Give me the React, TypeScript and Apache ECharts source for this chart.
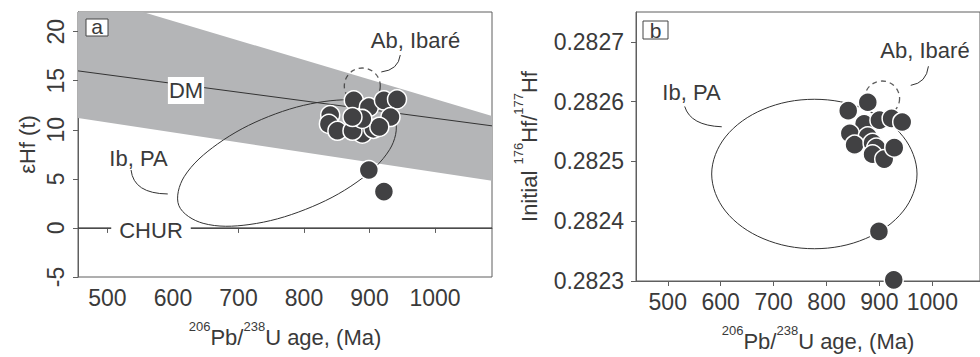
import React, { useEffect, useRef } from "react";
import * as echarts from "echarts";

// ---- tick values ----
const AGE_TICKS = [500, 600, 700, 800, 900, 1000];
const EHF_TICKS = [-5, 0, 5, 10, 15, 20];
const HF_TICKS = [0.2823, 0.2824, 0.2825, 0.2826, 0.2827];

// ---- panel a: 206Pb/238U age (Ma) vs εHf(t) ----
const ageA = [876, 899, 922, 942, 932, 840, 838, 851, 889, 906, 915, 874, 889, 874, 899, 922];
const ehfA = [13.0, 12.3, 13.0, 13.1, 11.3, 11.5, 10.6, 9.9, 9.6, 10.1, 10.3, 9.9, 11.1, 11.3, 5.9, 3.7];

// ---- panel b: 206Pb/238U age (Ma) vs initial 176Hf/177Hf ----
const ageB = [841, 878, 871, 900, 923, 943, 844, 878, 853, 887, 894, 887, 909, 928, 899, 927];
const hfB = [0.282585, 0.282599, 0.282563, 0.282569, 0.282572, 0.282566, 0.282547, 0.282542, 0.282528, 0.282531, 0.282523, 0.282512, 0.282504, 0.282523, 0.282383, 0.282302];

// ---- reference lines / fields (panel a) ----
const dmLine = [[455, 16.0], [1087, 10.4]];
const churLine = [[455, 0], [1087, 0]];
const dmBand = [[455, 22], [554, 22], [1087, 11.4], [1087, 4.8], [455, 11.2]];
const ibPaA = [[939, 10.97], [931, 8.01], [881, 4.68], [802, 1.88], [716, 0.34], [646, 0.47], [609, 2.27], [617, 5.21], [668, 8.55], [746, 11.35], [832, 12.89], [903, 12.75]];
const abIbareA = [[889, 14.46]];
const leaderAbA = [[947, 17.62], [944, 16.09], [918, 15.89]];
const leaderIbA = [[536, 5.9], [540, 3.5], [592, 3.46]];

// ---- fields (panel b) ----
const ibPaB = [[971, 0.282479], [945, 0.2825413], [874, 0.282587], [777, 0.282604], [680, 0.282587], [609, 0.282541], [583, 0.282479], [609, 0.282417], [680, 0.282371], [777, 0.282354], [874, 0.282371], [945, 0.282417]];
const abIbareB = [[905, 0.2826053]];
const leaderAbB = [[992.6, 0.2826592], [988.8, 0.2826314], [959.1, 0.2826273]];
const leaderIbB = [[532, 0.282592], [543, 0.282560], [602, 0.282558]];

const FONT = "'Liberation Sans', Arial, sans-serif";
const TXT = "#3a3a3a";
const AX = "#5f5f5f";
const DOT = "#414143";
const TICK_FS = 23;

function zip(xs: number[], ys: number[]) {
  return xs.map((x, i) => [x, ys[i]]);
}

function shapeSeries(xi: number, pts: number[][], kind: string, style: any, z: number) {
  return {
    type: "custom",
    xAxisIndex: xi,
    yAxisIndex: xi,
    z,
    silent: true,
    data: [pts[0]],
    renderItem: (_params: any, api: any) => {
      const p = pts.map((q) => api.coord(q));
      if (kind === "bezier") {
        return {
          type: "bezierCurve",
          shape: { x1: p[0][0], y1: p[0][1], cpx1: p[1][0], cpy1: p[1][1], x2: p[2][0], y2: p[2][1] },
          style,
        };
      }
      return {
        type: "polygon",
        shape: { points: p, smooth: kind === "smooth" ? 0.35 : 0 },
        style,
      };
    },
  };
}

const richName = {
  m: { fontSize: 22, lineHeight: 34, fontFamily: FONT, color: TXT },
  sup: { fontSize: 13, lineHeight: 13, verticalAlign: "top", fontFamily: FONT, color: TXT },
};

function xAxisCfg(gi: number, min: number, max: number, gap: number, pad: number) {
  return {
    type: "value",
    gridIndex: gi,
    min,
    max,
    axisLine: { show: true, lineStyle: { color: AX, width: 1 } },
    axisTick: { show: true, customValues: AGE_TICKS, length: 5, lineStyle: { color: AX } },
    axisLabel: {
      customValues: AGE_TICKS,
      margin: 9,
      fontSize: TICK_FS,
      fontFamily: FONT,
      color: TXT,
      formatter: (v: number) => String(v),
    },
    splitLine: { show: false },
    name: "{sup|206}{m|Pb/}{sup|238}{m|U age, (Ma)}",
    nameLocation: "middle",
    nameGap: gap,
    nameTextStyle: { fontSize: 22, fontFamily: FONT, color: TXT, rich: richName, padding: [0, 0, 0, pad] },
  };
}

const option: any = {
  animation: false,
  backgroundColor: "#fff",
  grid: [
    { left: 78, top: 12, width: 414, height: 265, show: true, borderColor: AX, borderWidth: 1, backgroundColor: "transparent" },
    { left: 636, top: 12, width: 349, height: 276, show: true, borderColor: AX, borderWidth: 1, backgroundColor: "transparent" },
  ],
  xAxis: [xAxisCfg(0, 455, 1087, 43, 0), xAxisCfg(1, 440, 1090, 43, 20)],
  yAxis: [
    {
      type: "value",
      gridIndex: 0,
      min: -5,
      max: 22,
      axisLine: { show: true, lineStyle: { color: AX } },
      axisTick: { show: true, customValues: EHF_TICKS, length: 5, lineStyle: { color: AX } },
      axisLabel: { customValues: EHF_TICKS, rotate: 90, margin: 11, fontSize: TICK_FS, fontFamily: FONT, color: TXT },
      splitLine: { show: false },
      name: "εHf (t)",
      nameLocation: "middle",
      nameGap: 40,
      nameTextStyle: { fontSize: 22, fontFamily: FONT, color: TXT },
    },
    {
      type: "value",
      gridIndex: 1,
      min: 0.2823,
      max: 0.28275,
      axisLine: { show: true, lineStyle: { color: AX } },
      axisTick: { show: true, customValues: HF_TICKS, length: 5, lineStyle: { color: AX } },
      axisLabel: {
        customValues: HF_TICKS,
        margin: 12,
        fontSize: TICK_FS,
        fontFamily: FONT,
        color: TXT,
        formatter: (v: number) => v.toFixed(4),
      },
      splitLine: { show: false },
      name: "{m|Initial }{sup|176}{m|Hf/}{sup|177}{m|Hf}",
      nameLocation: "middle",
      nameGap: 90,
      nameTextStyle: { fontSize: 22, fontFamily: FONT, color: TXT, rich: richName },
    },
  ],
  series: [
    // panel a
    shapeSeries(0, dmBand, "poly", { fill: "#b4b5b7", stroke: "none" }, 1),
    {
      type: "line", xAxisIndex: 0, yAxisIndex: 0, data: dmLine, symbol: "none", z: 2, silent: true,
      lineStyle: { color: "#333", width: 1 },
    },
    {
      type: "line", xAxisIndex: 0, yAxisIndex: 0, data: churLine, symbol: "none", z: 2, silent: true,
      lineStyle: { color: "#333", width: 1 },
    },
    shapeSeries(0, ibPaA, "smooth", { fill: "none", stroke: "#333", lineWidth: 1 }, 3),
    shapeSeries(0, leaderAbA, "bezier", { fill: "none", stroke: "#333", lineWidth: 1 }, 3),
    shapeSeries(0, leaderIbA, "bezier", { fill: "none", stroke: "#333", lineWidth: 1 }, 3),
    {
      type: "scatter", xAxisIndex: 0, yAxisIndex: 0, data: abIbareA, symbol: "circle", symbolSize: 36, z: 4, silent: true,
      itemStyle: { color: "transparent", borderColor: "#333", borderWidth: 1.3, borderType: [5, 4] },
    },
    {
      type: "scatter", xAxisIndex: 0, yAxisIndex: 0, data: zip(ageA, ehfA), symbol: "circle", symbolSize: 19, z: 5, silent: true,
      itemStyle: { color: DOT, borderColor: "#fff", borderWidth: 1.5, opacity: 1 },
    },
    // panel b
    shapeSeries(1, ibPaB, "smooth", { fill: "none", stroke: "#333", lineWidth: 1 }, 3),
    shapeSeries(1, leaderAbB, "bezier", { fill: "none", stroke: "#333", lineWidth: 1 }, 3),
    shapeSeries(1, leaderIbB, "bezier", { fill: "none", stroke: "#333", lineWidth: 1 }, 3),
    {
      type: "scatter", xAxisIndex: 1, yAxisIndex: 1, data: abIbareB, symbol: "circle", symbolSize: 35, z: 4, silent: true,
      itemStyle: { color: "transparent", borderColor: "#333", borderWidth: 1.3, borderType: [5, 4] },
    },
    {
      type: "scatter", xAxisIndex: 1, yAxisIndex: 1, data: zip(ageB, hfB), symbol: "circle", symbolSize: 19, z: 5, silent: true,
      itemStyle: { color: DOT, borderColor: "#fff", borderWidth: 1.5, opacity: 1 },
    },
  ],
  graphic: [
    { type: "rect", z: 100, shape: { x: 86, y: 19, width: 22, height: 17 }, style: { fill: "#fff", stroke: "#444", lineWidth: 1 } },
    { type: "text", z: 101, style: { text: "a", x: 97, y: 26.5, fontSize: 21, fontFamily: FONT, fill: TXT, align: "center", verticalAlign: "middle" } },
    { type: "rect", z: 100, shape: { x: 643, y: 21, width: 25, height: 18 }, style: { fill: "#fff", stroke: "#444", lineWidth: 1 } },
    { type: "text", z: 101, style: { text: "b", x: 655.5, y: 30, fontSize: 21, fontFamily: FONT, fill: TXT, align: "center", verticalAlign: "middle" } },
    { type: "text", z: 101, style: { text: "Ab, Ibaré", x: 415.5, y: 40.5, fontSize: 22, fontFamily: FONT, fill: TXT, align: "center", verticalAlign: "middle" } },
    { type: "text", z: 101, style: { text: "Ib, PA", x: 138.5, y: 158.5, fontSize: 22, fontFamily: FONT, fill: TXT, align: "center", verticalAlign: "middle" } },
    { type: "text", z: 101, style: { text: "DM", x: 186, y: 90.5, fontSize: 22, fontFamily: FONT, fill: TXT, align: "center", verticalAlign: "middle", backgroundColor: "#fff", padding: [3, 1, 2, 1] } },
    { type: "text", z: 101, style: { text: "CHUR", x: 151, y: 230, fontSize: 22, fontFamily: FONT, fill: TXT, align: "center", verticalAlign: "middle", backgroundColor: "#fff", padding: [0, 8, 0, 8] } },
    { type: "text", z: 101, style: { text: "Ab, Ibaré", x: 925, y: 50.5, fontSize: 22, fontFamily: FONT, fill: TXT, align: "center", verticalAlign: "middle" } },
    { type: "text", z: 101, style: { text: "Ib, PA", x: 691.5, y: 92, fontSize: 22, fontFamily: FONT, fill: TXT, align: "center", verticalAlign: "middle" } },
  ],
};

export default function App() {
  const ref = useRef<HTMLDivElement>(null);
  useEffect(() => {
    const chart = echarts.init(ref.current as HTMLDivElement, null, { renderer: "svg" });
    chart.setOption(option);
    return () => chart.dispose();
  }, []);
  return (
    <div
      ref={ref}
      style={{ position: "absolute", left: 0, top: 0, width: 980, height: 357, background: "#fff" }}
    />
  );
}
